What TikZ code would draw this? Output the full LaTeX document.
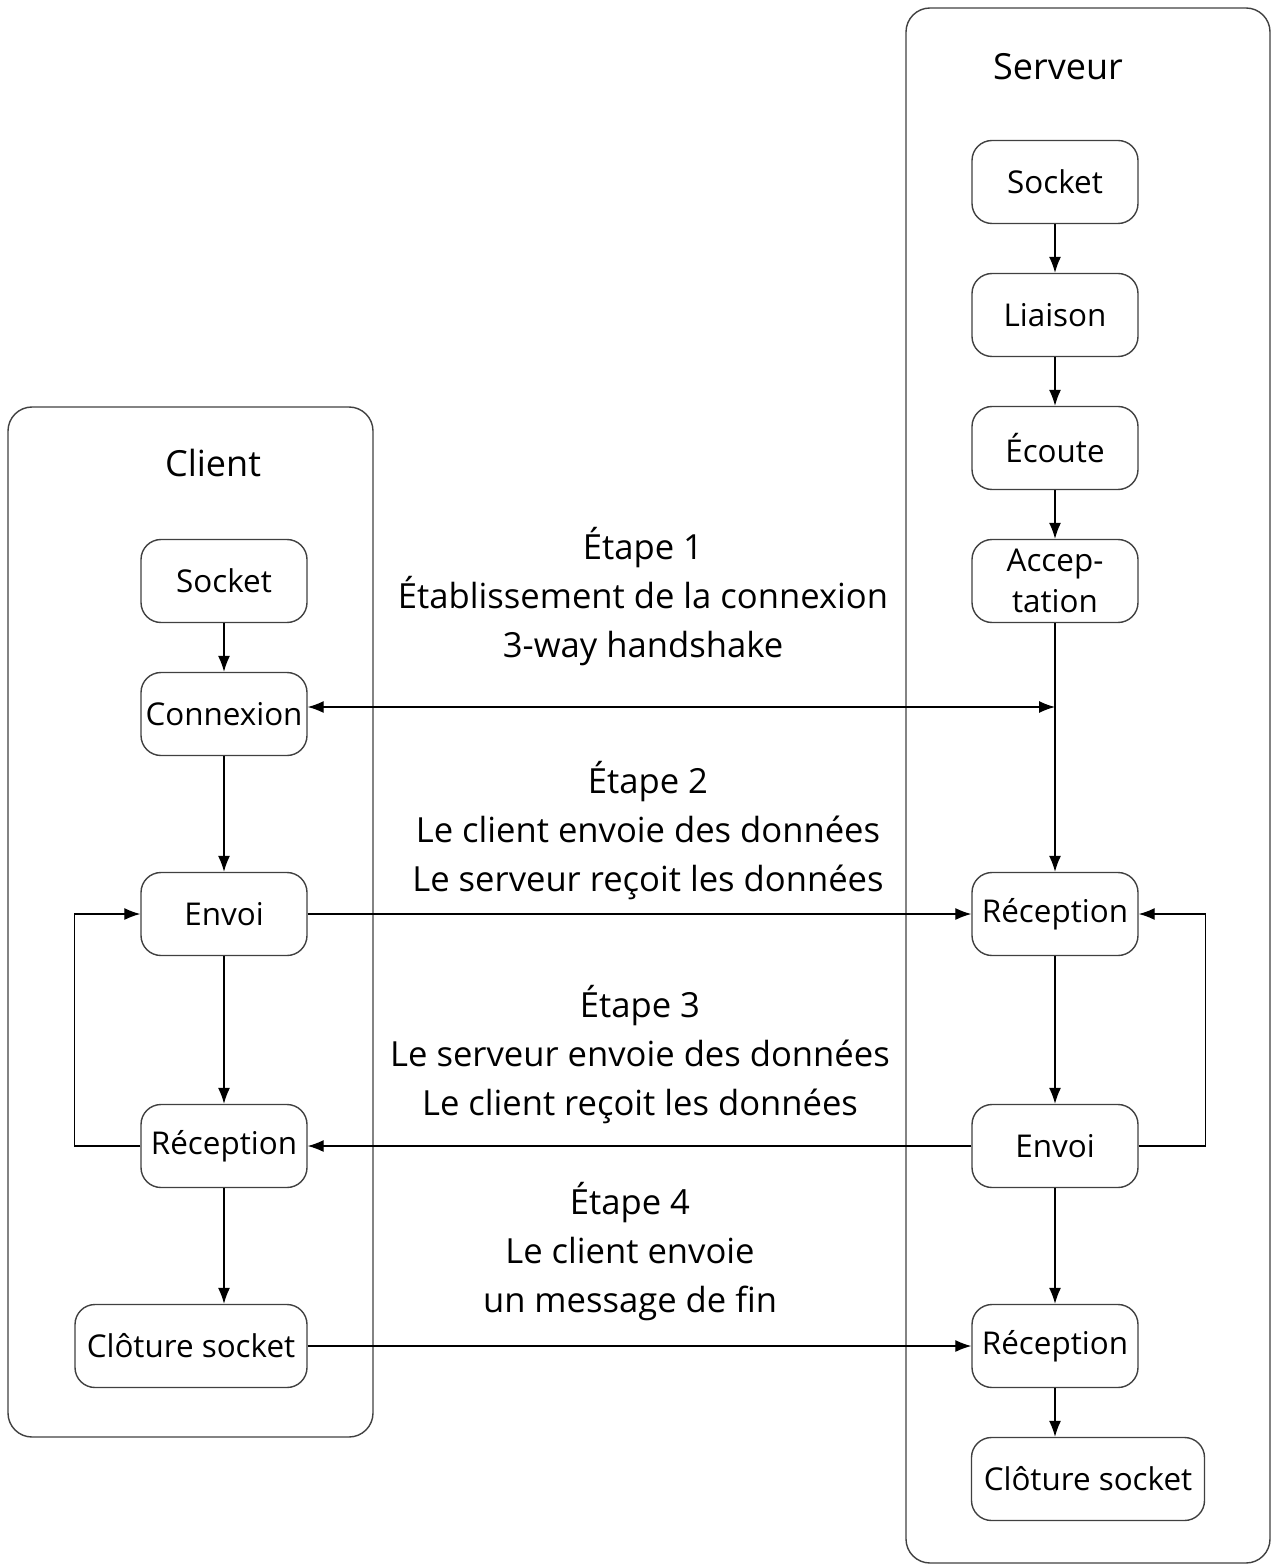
\documentclass[tikz,border=0pt]{standalone}
\usepackage{fontspec}
\setmainfont{Open Sans}
\usetikzlibrary{arrows.meta,positioning}

\tikzset{
  >={Latex[length=8pt,width=6pt]},
  etat/.style={draw=black!75, line width=0.7pt, rounded corners=10pt,
    minimum width=83pt, minimum height=41.5pt, inner sep=1pt,
    align=center, font=\fontsize{15.7}{20.5}\selectfont},
  cadre/.style={draw=black!75, line width=0.7pt, rounded corners=12pt},
  titre/.style={font=\fontsize{18}{22}\selectfont},
  etape/.style={align=center, font=\fontsize{17.3}{24.5}\selectfont},
  lien/.style={->, line width=0.6pt},
}

\begin{document}
\begin{tikzpicture}[x=0.5pt, y=-0.5pt]
\useasboundingbox (0,0) rectangle (1272,1566);

% cadres client / serveur
\draw[cadre] (8,407) rectangle (373,1437);
\draw[cadre] (906,8) rectangle (1270,1563);
\node[titre] (tcli) at (213,463) {Client};
\node[titre] (tsrv) at (1058,67) {Serveur};

% client
\node[etat] (csock) at (224,581) {Socket};
\node[etat] (cconn) at (224,714) {Connexion};
\node[etat] (cenv) at (224,914) {Envoi};
\node[etat] (crec) at (224,1146) {Réception};
\node[etat, minimum width=116pt] (cclo) at (191,1346) {Clôture socket};

% serveur
\node[etat] (ssock) at (1055,182) {Socket};
\node[etat] (slia) at (1055,315) {Liaison};
\node[etat] (secou) at (1055,448) {Écoute};
\node[etat] (sacc) at (1055,581) {Accep-\\tation};
\node[etat] (srec) at (1055,914) {Réception};
\node[etat] (senv) at (1055,1146) {Envoi};
\node[etat] (srecfin) at (1055,1346) {Réception};
\node[etat, minimum width=116.5pt] (sclo) at (1088,1479) {Clôture socket};

% etapes
\node[etape] (e1) at (643,597) {Étape 1\\Établissement de la connexion\\3-way handshake};
\node[etape] (e2) at (648,831) {Étape 2\\Le client envoie des données\\Le serveur reçoit les données};
\node[etape] (e3) at (640,1055) {Étape 3\\Le serveur envoie des données\\Le client reçoit les données};
\node[etape] (e4) at (630,1252) {Étape 4\\Le client envoie\\un message de fin};

% fleches client
\draw[lien] (csock) -- (cconn);
\draw[lien] (cconn) -- (cenv);
\draw[lien] (cenv) -- (crec);
\draw[lien] (crec) -- (cclo.north -| crec);
\draw[lien] (crec.west) -- ++(-66,0) |- (cenv.west);

% fleches serveur
\draw[lien] (ssock) -- (slia);
\draw[lien] (slia) -- (secou);
\draw[lien] (secou) -- (sacc);
\draw[lien] (sacc) -- (srec);
\draw[lien] (srec) -- (senv);
\draw[lien] (senv) -- (srecfin);
\draw[lien] (srecfin) -- (sclo.north -| srecfin);
\draw[lien] (senv.east) -- ++(67,0) |- (srec.east);

% echanges
\coordinate (hs) at ([yshift=3.5pt]sacc |- cconn);
\draw[lien, <->] ([yshift=3.5pt]cconn.east) -- (hs);
\draw[lien] (cenv) -- (srec);
\draw[lien] (senv) -- (crec);
\draw[lien] (cclo) -- (srecfin);
\end{tikzpicture}
\end{document}
